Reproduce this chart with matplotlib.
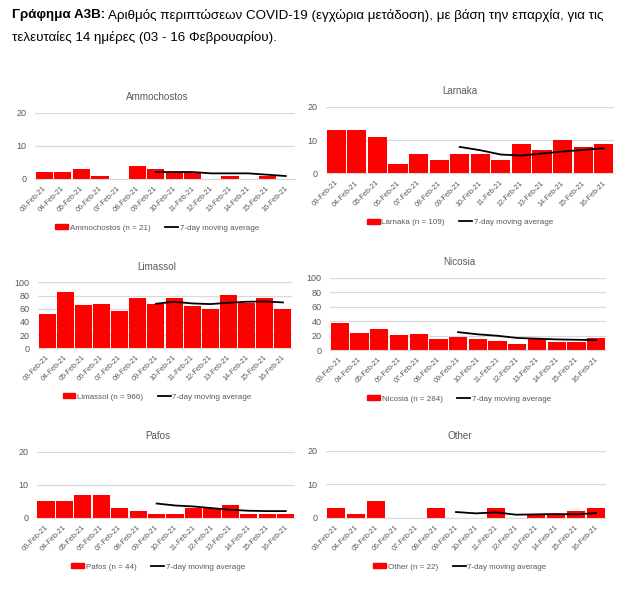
import matplotlib
matplotlib.use("Agg")
import matplotlib.pyplot as plt
import matplotlib.transforms as mtransforms
from matplotlib.patches import Patch
from matplotlib.lines import Line2D

plt.rcParams['font.family'] = ['Liberation Sans', 'DejaVu Sans']

# Dates (03 - 16 Feb 2021)
dates = ['03-Feb-21', '04-Feb-21', '05-Feb-21', '06-Feb-21', '07-Feb-21',
         '08-Feb-21', '09-Feb-21', '10-Feb-21', '11-Feb-21', '12-Feb-21',
         '13-Feb-21', '14-Feb-21', '15-Feb-21', '16-Feb-21']

# Daily cases per district
ammochostos = [2, 2, 3, 1, 0, 4, 3, 2, 2, 0, 1, 0, 1, 0]
larnaka = [13, 13, 11, 3, 6, 4, 6, 6, 4, 9, 7, 10, 8, 9]
limassol = [52, 85, 66, 67, 57, 76, 67, 76, 64, 60, 81, 69, 76, 59]
nicosia = [38, 24, 30, 21, 23, 16, 18, 16, 13, 8, 15, 12, 12, 17]
pafos = [5, 5, 7, 7, 3, 2, 1, 1, 3, 3, 4, 1, 1, 1]
other = [3, 1, 5, 0, 0, 3, 0, 0, 3, 0, 1, 1, 2, 3]

# 7-day moving average (from 09-Feb to 16-Feb)
ma_ammochostos = [2.1, 2.1, 2.1, 1.7, 1.7, 1.7, 1.3, 0.9]
ma_larnaka = [8.0, 7.0, 5.7, 5.4, 6.0, 6.6, 7.1, 7.6]
ma_limassol = [67.5, 70.5, 68, 67, 69, 70.5, 71, 69.5]
ma_nicosia = [25, 22, 20, 17, 16, 15, 14.5, 14]
ma_pafos = [4.3, 3.7, 3.4, 2.9, 2.4, 2.1, 2.0, 2.0]
ma_other = [1.7, 1.3, 1.6, 0.9, 1.0, 1.1, 1.0, 1.4]

W, H = 636, 589
fig = plt.figure(figsize=(W / 100, H / 100), dpi=100)

GREY = '#595959'
GRID = '#d9d9d9'


def px_axes(left, right, top, bottom):
    return fig.add_axes([left / W, 1 - bottom / H, (right - left) / W, (bottom - top) / H])


# (name, n, values, ma, ymax, ystep, box in px, title pos, legend y)
panels = [
    ('Ammochostos', 21, ammochostos, ma_ammochostos, 20, 10, (35, 295, 112.7, 179), (157, 97), 228),
    ('Larnaka', 109, larnaka, ma_larnaka, 20, 10, (326, 614, 107, 173.5), (460, 91), 222.5),
    ('Limassol', 966, limassol, ma_limassol, 100, 20, (38, 292, 282.3, 348.3), (157, 267), 397),
    ('Nicosia', 284, nicosia, ma_nicosia, 100, 20, (330, 606, 277.7, 350.3), (459, 262), 399),
    ('Pafos', 44, pafos, ma_pafos, 20, 10, (36.7, 295, 451.7, 517.7), (158, 436), 567),
    ('Other', 22, other, ma_other, 20, 10, (326, 606, 451, 517.7), (460, 436), 567),
]

x = list(range(len(dates)))
x_ma = x[6:]

for name, n, vals, ma, ymax, ystep, box, tpos, ly in panels:
    ax = px_axes(*box)
    ax.bar(x, vals, width=0.93, color='#ff0000', zorder=2)
    ax.plot(x_ma, ma, color='black', lw=1.3, zorder=3)
    ax.set_xlim(-0.5, len(dates) - 0.5)
    ax.set_ylim(0, ymax)
    ax.set_yticks(range(0, ymax + 1, ystep))
    ax.grid(axis='y', color=GRID, lw=0.9, zorder=0)
    for s in ['top', 'right', 'left']:
        ax.spines[s].set_visible(False)
    ax.spines['bottom'].set_color(GRID)
    ax.tick_params(axis='y', length=0, labelsize=6.5, labelcolor=GREY, pad=6)
    ax.tick_params(axis='x', length=0, labelsize=5.2, labelcolor=GREY, pad=6)
    ax.set_xticks(x)
    ax.set_xticklabels(dates, rotation=45, ha='right', va='center', rotation_mode='anchor')
    shift = mtransforms.ScaledTranslation(1 / 100, 0, fig.dpi_scale_trans)
    for lab in ax.get_xticklabels():
        lab.set_transform(lab.get_transform() + shift)

    fig.text(tpos[0] / W, 1 - tpos[1] / H, name, ha='center', va='center',
             fontsize=7.1, color=GREY)

    handles = [Patch(color='#ff0000'), Line2D([], [], color='black', lw=1.3)]
    labels = [f'{name} (n = {n})', '7-day moving average']
    fig.legend(handles, labels, loc='center', ncol=2, frameon=False,
               bbox_to_anchor=(tpos[0] / W, 1 - ly / H), fontsize=5.8, labelcolor=GREY,
               handlelength=1.6, handleheight=0.55, handletextpad=0.2, columnspacing=1.8)

# Header text
t1 = fig.text(12 / W, 1 - 15 / H, 'Γράφημα A3B:', fontsize=9.6, fontweight='bold',
              ha='left', va='center')
fig.canvas.draw()
bb = t1.get_window_extent()
fig.text(bb.x1 / W, 1 - 15 / H,
         ' Αριθμός περιπτώσεων COVID-19 (εγχώρια μετάδοση), με βάση την επαρχία, για τις',
         fontsize=9.6, ha='left', va='center')
fig.text(12 / W, 1 - 37 / H, 'τελευταίες 14 ημέρες (03 - 16 Φεβρουαρίου).',
         fontsize=9.6, ha='left', va='center')

fig.savefig('out.png', dpi=100)
